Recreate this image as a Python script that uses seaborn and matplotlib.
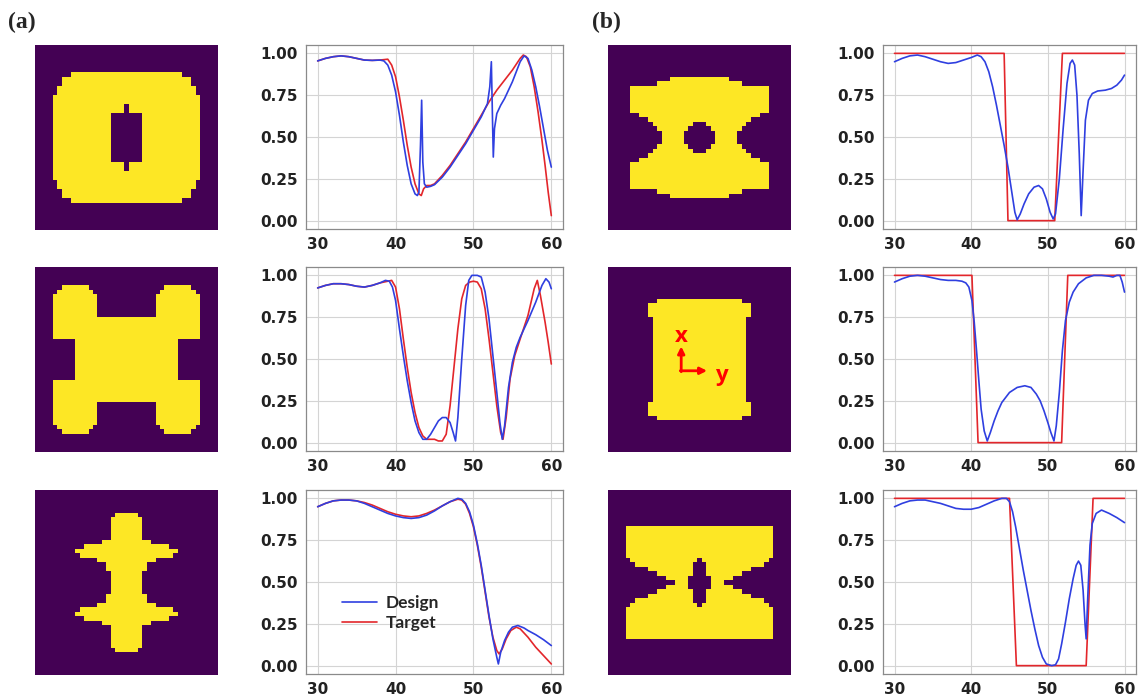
import numpy as np
import matplotlib
matplotlib.use("Agg")
import matplotlib.pyplot as plt
from matplotlib.colors import ListedColormap
import seaborn as sns

# ---- curves: (wavelength, value) ----
a1_design = [(30, .955), (31, .97), (32, .98), (33, .985), (34, .98), (35, .97), (36, .96), (37, .958),
             (38, .96), (38.5, .955), (39, .93), (39.5, .87), (40, .77), (40.5, .63), (41, .47), (41.5, .33),
             (42, .22), (42.5, .16), (42.8, .15), (43.0, .17), (43.2, .45), (43.35, .72), (43.5, .35),
             (43.7, .22), (44, .20), (44.5, .205), (45, .215), (46, .26), (47, .32), (48, .39), (49, .46),
             (50, .54), (51, .62), (51.8, .70), (52.1, .80), (52.3, .95), (52.45, .60), (52.55, .38),
             (52.7, .55), (53, .64), (53.5, .69), (54, .73), (55, .83), (55.5, .89), (56, .95), (56.5, .985),
             (57, .97), (57.5, .90), (58, .80), (58.5, .68), (59, .55), (59.5, .42), (60, .32)]
a1_target = [(30, .955), (31, .97), (32, .98), (33, .985), (34, .98), (35, .97), (36, .96), (37, .958),
             (38, .96), (39, .965), (39.5, .93), (40, .86), (40.5, .74), (41, .60), (41.5, .45), (42, .32),
             (42.5, .22), (43, .16), (43.3, .15), (43.6, .19), (44, .21), (44.5, .21), (45, .22), (46, .27),
             (47, .33), (48, .40), (49, .47), (50, .55), (51, .63), (52, .71), (53, .78), (54, .84), (55, .90),
             (56, .97), (56.4, .99), (56.8, .98), (57.3, .92), (57.8, .80), (58.3, .65), (58.8, .48),
             (59.2, .33), (59.6, .17), (60, .03)]

a2_design = [(30, .925), (31, .94), (32, .95), (33, .95), (34, .945), (35, .935), (36, .93), (37, .94),
             (38, .955), (38.7, .97), (39.2, .965), (39.6, .93), (40, .85), (40.5, .68), (41, .52),
             (41.5, .37), (42, .24), (42.5, .13), (43, .06), (43.5, .02), (44, .02), (44.5, .05), (45, .09),
             (45.5, .13), (46, .15), (46.5, .15), (47, .12), (47.4, .06), (47.7, .01), (48, .15), (48.5, .50),
             (49, .82), (49.4, .97), (49.8, 1.0), (50.5, 1.0), (51, .99), (51.5, .90), (52, .74), (52.5, .52),
             (53, .30), (53.4, .12), (53.7, .02), (54, .10), (54.5, .33), (55, .48), (55.5, .57), (56, .63),
             (57, .73), (58, .84), (58.8, .94), (59.3, .98), (59.7, .96), (60, .92)]
a2_target = [(30, .925), (31, .94), (32, .95), (33, .95), (34, .945), (35, .935), (36, .93), (37, .94),
             (38, .955), (39, .965), (39.5, .97), (40, .93), (40.5, .80), (41, .62), (41.5, .45), (42, .30),
             (42.5, .18), (43, .09), (43.5, .04), (44, .02), (45, .02), (45.5, .01), (46, .01), (46.5, .05),
             (47, .22), (47.5, .45), (48, .68), (48.5, .86), (49, .94), (49.5, .96), (50, .965), (50.5, .96),
             (51, .92), (51.5, .80), (52, .62), (52.5, .42), (53, .22), (53.5, .06), (53.8, .02), (54.2, .15),
             (54.7, .38), (55.3, .52), (56, .62), (57, .76), (57.8, .92), (58.2, .97), (58.6, .88),
             (59.2, .72), (59.6, .60), (60, .47)]

a3_design = [(30, .95), (31, .97), (32, .985), (33, .99), (34, .99), (35, .985), (36, .97), (37, .95),
             (38, .93), (39, .91), (40, .895), (41, .885), (42, .88), (43, .885), (44, .90), (45, .925),
             (46, .955), (47, .98), (48, 1.0), (48.5, .995), (49, .97), (49.5, .92), (50, .84), (50.5, .73),
             (51, .60), (51.5, .45), (52, .30), (52.5, .16), (53, .05), (53.2, .01), (53.5, .08), (54, .15),
             (54.5, .20), (55, .23), (55.7, .24), (56.5, .225), (57, .21), (58, .185), (59, .155), (60, .12)]
a3_target = [(30, .95), (31, .97), (32, .985), (33, .99), (34, .99), (35, .985), (36, .975), (37, .96),
             (38, .94), (39, .92), (40, .905), (41, .895), (42, .89), (43, .895), (44, .91), (45, .93),
             (46, .955), (47, .98), (48, .995), (48.5, .99), (49, .965), (49.5, .91), (50, .83), (50.5, .72),
             (51, .59), (51.5, .44), (52, .29), (52.5, .17), (53, .09), (53.3, .07), (53.7, .10), (54.2, .16),
             (54.8, .21), (55.5, .23), (56, .22), (57, .17), (58, .11), (59, .06), (60, .01)]

b1_design = [(30, .95), (31, .97), (32, .985), (33, .99), (34, .98), (35, .965), (36, .95), (37, .94),
             (38, .945), (39, .96), (40, .975), (40.8, .99), (41.3, .98), (41.8, .95), (42.3, .89), (42.8, .80),
             (43.3, .69), (43.8, .57), (44.3, .45), (44.8, .32), (45.3, .17), (45.7, .05), (46.0, .005),
             (46.4, .04), (46.9, .10), (47.5, .16), (48.2, .20), (48.8, .21), (49.3, .19), (49.8, .13),
             (50.3, .05), (50.7, .01), (51, .04), (51.5, .25), (52, .55), (52.5, .82), (52.9, .94), (53.2, .96),
             (53.5, .93), (53.8, .75), (54.1, .40), (54.35, .03), (54.6, .30), (54.9, .60), (55.3, .72),
             (55.8, .76), (56.5, .775), (57.5, .78), (58.3, .79), (59, .81), (59.6, .84), (60, .87)]
b1_target = [(30, 1), (44.3, 1), (44.8, 0), (50.9, 0), (51.9, 1), (60, 1)]

b2_design = [(30, .96), (31, .98), (32, .995), (33, 1.0), (34, .995), (35, .985), (36, .975), (37, .97),
             (38, .97), (38.8, .965), (39.3, .955), (39.7, .93), (40.1, .85), (40.4, .72), (40.7, .55),
             (41.0, .37), (41.3, .20), (41.7, .07), (42.1, .01), (42.5, .06), (43, .13), (43.5, .19), (44, .24),
             (45, .30), (46, .33), (47, .34), (47.8, .33), (48.5, .29), (49, .25), (49.5, .19), (50, .12),
             (50.4, .06), (50.8, .01), (51.1, .10), (51.5, .30), (51.9, .55), (52.3, .73), (52.8, .84),
             (53.3, .90), (54, .95), (55, .985), (56, 1.0), (57, 1.0), (58, .995), (58.5, .99), (59, 1.0),
             (59.4, 1.0), (59.7, .96), (60, .90)]
b2_target = [(30, 1), (40.1, 1), (40.9, 0), (51.8, 0), (52.6, 1), (60, 1)]

b3_design = [(30, .95), (31, .97), (32, .985), (33, .99), (34, .99), (35, .98), (36, .97), (37, .955),
             (38, .94), (39, .935), (40, .935), (41, .945), (42, .965), (43, .985), (44, 1.0), (44.6, 1.0),
             (45, .98), (45.4, .92), (45.8, .83), (46.3, .70), (46.8, .57), (47.3, .45), (47.8, .33),
             (48.3, .22), (48.8, .12), (49.3, .05), (49.8, .01), (50.5, .0), (51, .005), (51.4, .04),
             (51.8, .13), (52.3, .26), (52.8, .40), (53.3, .52), (53.7, .60), (54.0, .625), (54.3, .60),
             (54.6, .45), (54.85, .25), (55.0, .16), (55.2, .40), (55.5, .72), (55.8, .85), (56.3, .91),
             (57, .93), (58, .91), (59, .885), (60, .855)]
b3_target = [(30, 1), (45.0, 1), (45.9, 0), (55.0, 0), (55.9, 1), (60, 1)]

# ---- shapes: per-row half widths (rows 0..20, mirrored), outer edge and hole ----
a1_outer = [-1, -1, -1, -1, -1, -1, 12, 14, 14, 15, 15, 16, 16, 16, 16, 16, 16, 16, 16, 16, 16]
a1_inner = [-1, -1, -1, -1, -1, -1, -1, -1, -1, -1, -1, -1, -1, 0, 0, 3, 3, 3, 3, 3, 3]
a2_outer = [-1, -1, -1, -1, 14, 15, 16, 16, 16, 16, 16, 16, 16, 16, 16, 16, 11, 11, 11, 11, 11]
a2_inner = [-1, -1, -1, -1, 8, 7, 6, 6, 6, 6, 6, -1, -1, -1, -1, -1, -1, -1, -1, -1, -1]
a3_outer = [-1, -1, -1, -1, -1, 2, 3, 3, 3, 3, 3, 5, 9, 11, 10, 6, 4, 4, 3, 3, 3]
a3_inner = [-1] * 21
b1_outer = [-1, -1, -1, -1, -1, -1, -1, 6, 9, 15, 15, 15, 15, 15, 15, 13, 11, 10, 9, 8, 8]
b1_inner = [-1, -1, -1, -1, -1, -1, -1, -1, -1, -1, -1, -1, -1, -1, -1, -1, -1, 1, 2, 3, 3]
b2_outer = [-1, -1, -1, -1, -1, -1, -1, 9, 11, 11, 11, 10, 10, 10, 10, 10, 10, 10, 10, 10, 10]
b2_inner = [-1] * 21
b3_outer = [-1, -1, -1, -1, -1, -1, -1, -1, 16, 16, 16, 16, 16, 16, 16, 15, 14, 11, 9, 7, 5]
b3_inner = [-1, -1, -1, -1, -1, -1, -1, -1, -1, -1, -1, -1, -1, -1, -1, 0, 1, 1, 1, 2, 2]

x_ticks = [30, 40, 50, 60]
y_ticks = [0, 0.25, 0.5, 0.75, 1.0]

N = 41


def make_mask(outer, inner):
    rows = np.arange(N)
    half = np.minimum(rows, N - 1 - rows)
    d = np.abs(np.arange(N) - N // 2)[None, :]
    o = np.array(outer)[half][:, None]
    i = np.array(inner)[half][:, None]
    return ((d <= o) & (d > i)).astype(int)


sns.set_style("whitegrid")
plt.rcParams["font.family"] = ["DejaVu Sans"]

W, H = 1142, 699
fig = plt.figure(figsize=(W / 100, H / 100), dpi=100)


def rect(left, top, w, h):
    return [left / W, 1 - (top + h) / H, w / W, h / H]


shape_cmap = ListedColormap(["#440154", "#fde725"])
blue, red = "#2f3fe0", "#e3262b"

panels = [
    (a1_outer, a1_inner, a1_design, a1_target),
    (a2_outer, a2_inner, a2_design, a2_target),
    (a3_outer, a3_inner, a3_design, a3_target),
    (b1_outer, b1_inner, b1_design, b1_target),
    (b2_outer, b2_inner, b2_design, b2_target),
    (b3_outer, b3_inner, b3_design, b3_target),
]
rows_top = [45, 267, 490]
img_left = [35, 608]
plot_left = [306, 883]
plot_w = [257, 253]

for k, (outer, inner, design, target) in enumerate(panels):
    col, row = k // 3, k % 3
    top = rows_top[row]

    axi = fig.add_axes(rect(img_left[col], top, 183, 185))
    sns.heatmap(make_mask(outer, inner), ax=axi, cmap=shape_cmap, vmin=0, vmax=1,
                cbar=False, xticklabels=False, yticklabels=False)

    ax = fig.add_axes(rect(plot_left[col], top, plot_w[col], 184))
    dx, dy = zip(*design)
    tx, ty = zip(*target)
    sns.lineplot(x=list(dx), y=list(dy), ax=ax, color=blue, lw=1.2, label="Design",
                 sort=False, estimator=None, zorder=3)
    sns.lineplot(x=list(tx), y=list(ty), ax=ax, color=red, lw=1.2, label="Target",
                 sort=False, estimator=None, zorder=2)
    ax.set_xlim(28.5, 61.5)
    ax.set_ylim(-0.05, 1.05)
    ax.set_xticks(x_ticks)
    ax.set_yticks(y_ticks)
    ax.set_yticklabels(["%.2f" % v for v in y_ticks])
    ax.grid(color="#d4d4d4", lw=0.8)
    for s in ax.spines.values():
        s.set_color("#8a8a8a")
        s.set_linewidth(0.9)
    ax.tick_params(labelsize=11, length=3, color="#8a8a8a", pad=3)
    for lab in ax.get_xticklabels() + ax.get_yticklabels():
        lab.set_fontweight("bold")
        lab.set_color("#222222")
    if k == 2:
        ax.legend(loc="center left", bbox_to_anchor=(0.08, 0.33), frameon=False,
                  prop={"family": "Lato", "weight": "bold", "size": 12.5},
                  handlelength=2.0, handletextpad=0.5, labelspacing=0.25)
    else:
        ax.get_legend().remove()

    if k == 4:
        axi.annotate("", xy=(16.4, 17.6), xytext=(16.4, 23.2),
                     arrowprops=dict(arrowstyle="-|>", color="red", lw=2, mutation_scale=10,
                                     shrinkA=0, shrinkB=0))
        axi.annotate("", xy=(22.2, 23.0), xytext=(16.2, 23.0),
                     arrowprops=dict(arrowstyle="-|>", color="red", lw=2, mutation_scale=10,
                                     shrinkA=0, shrinkB=0))
        axi.text(16.4, 15.3, "x", color="red", fontsize=16, fontweight="bold",
                 family="Open Sans", ha="center", va="center")
        axi.text(25.3, 24.0, "y", color="red", fontsize=16, fontweight="bold",
                 family="Open Sans", ha="center", va="center")

fig.text(8 / W, 1 - 22 / H, "(a)", family="Liberation Serif", weight="bold", fontsize=17, va="center")
fig.text(592 / W, 1 - 22 / H, "(b)", family="Liberation Serif", weight="bold", fontsize=17, va="center")

fig.savefig("out.png", dpi=100)
